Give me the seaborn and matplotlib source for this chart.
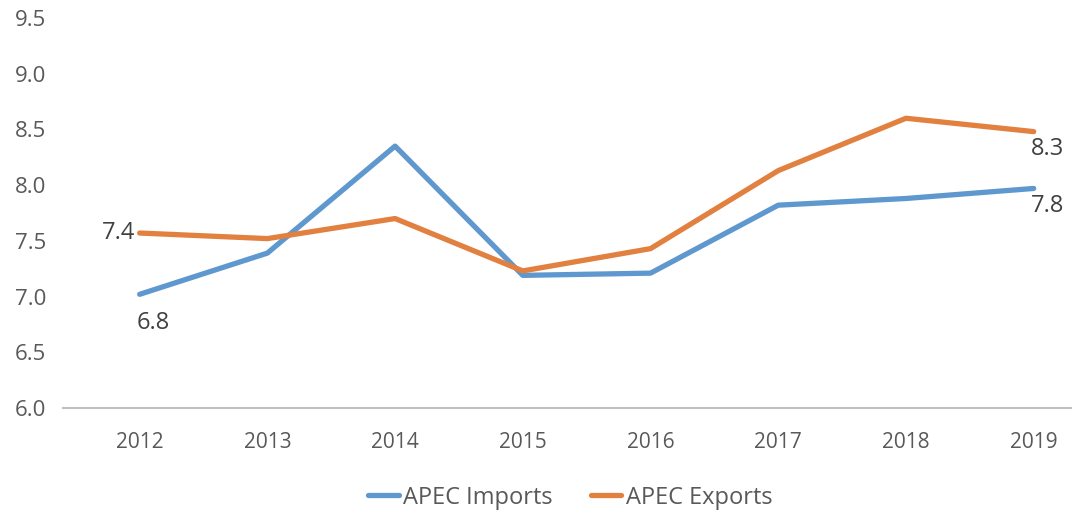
import numpy as np
import pandas as pd
import seaborn as sns
import matplotlib

matplotlib.use("Agg")
import matplotlib.pyplot as plt

# Data.
years = [2012, 2013, 2014, 2015, 2016, 2017, 2018, 2019]
imports = [7.02, 7.39, 8.35, 7.19, 7.21, 7.82, 7.88, 7.97]
exports = [7.57, 7.52, 7.70, 7.23, 7.43, 8.13, 8.60, 8.48]
series_names = ["APEC Imports", "APEC Exports"]
end_labels_imports = ["6.8", "7.8"]
end_labels_exports = ["7.4", "8.3"]
y_ticks = [6.0, 6.5, 7.0, 7.5, 8.0, 8.5, 9.0, 9.5]

palette = {"APEC Imports": "#5f98cf", "APEC Exports": "#e2803f"}
text_color = "#595959"

df = pd.DataFrame(
    {
        "year": years * 2,
        "value": imports + exports,
        "series": [series_names[0]] * len(years) + [series_names[1]] * len(years),
    }
)

sns.set_style("white")
plt.rcParams["font.family"] = ["Open Sans", "DejaVu Sans"]

fig = plt.figure(figsize=(10.72, 5.13), dpi=100)
ax = fig.add_axes([0.0588, 0.2047, 0.9412, 0.7603])

sns.lineplot(
    data=df,
    x="year",
    y="value",
    hue="series",
    palette=palette,
    linewidth=3.8,
    ax=ax,
    legend=False,
)

ax.set_xlim(years[0] - 0.6, years[-1] + 0.3)
ax.set_ylim(y_ticks[0], y_ticks[-1])
ax.set_yticks(y_ticks)
ax.set_yticklabels(["{:.1f}".format(t) for t in y_ticks])
ax.set_xticks(years)
ax.set_xticklabels([str(y) for y in years])

ax.tick_params(axis="y", length=0, pad=12, labelsize=16, labelcolor=text_color)
ax.tick_params(axis="x", length=0, pad=17, labelsize=15, labelcolor=text_color)
ax.set_xlabel("")
ax.set_ylabel("")

for side in ["top", "right", "left"]:
    ax.spines[side].set_visible(False)
ax.spines["bottom"].set_color("#bfbfbf")
ax.spines["bottom"].set_linewidth(1.5)

# End-point data labels.
lab_kw = dict(fontsize=17, color="#404040")
ax.annotate(end_labels_exports[0], xy=(years[0], exports[0]), xytext=(-3, 0),
            textcoords="offset points", ha="right", va="center", **lab_kw)
ax.annotate(end_labels_imports[0], xy=(years[0], imports[0]), xytext=(-2, -12),
            textcoords="offset points", ha="left", va="top", **lab_kw)
ax.annotate(end_labels_exports[1], xy=(years[-1], exports[-1]), xytext=(-2, -4),
            textcoords="offset points", ha="left", va="top", **lab_kw)
ax.annotate(end_labels_imports[1], xy=(years[-1], imports[-1]), xytext=(-2, -4),
            textcoords="offset points", ha="left", va="top", **lab_kw)

handles = [
    plt.Line2D([], [], color=palette[name], linewidth=3.8) for name in series_names
]
leg = fig.legend(
    handles,
    series_names,
    loc="lower center",
    bbox_to_anchor=(0.532, -0.035),
    ncol=2,
    frameon=False,
    fontsize=17,
    handlelength=1.3,
    handletextpad=0.2,
    columnspacing=1.6,
)
for t in leg.get_texts():
    t.set_color(text_color)

fig.savefig("out.png", dpi=100)
plt.close()
